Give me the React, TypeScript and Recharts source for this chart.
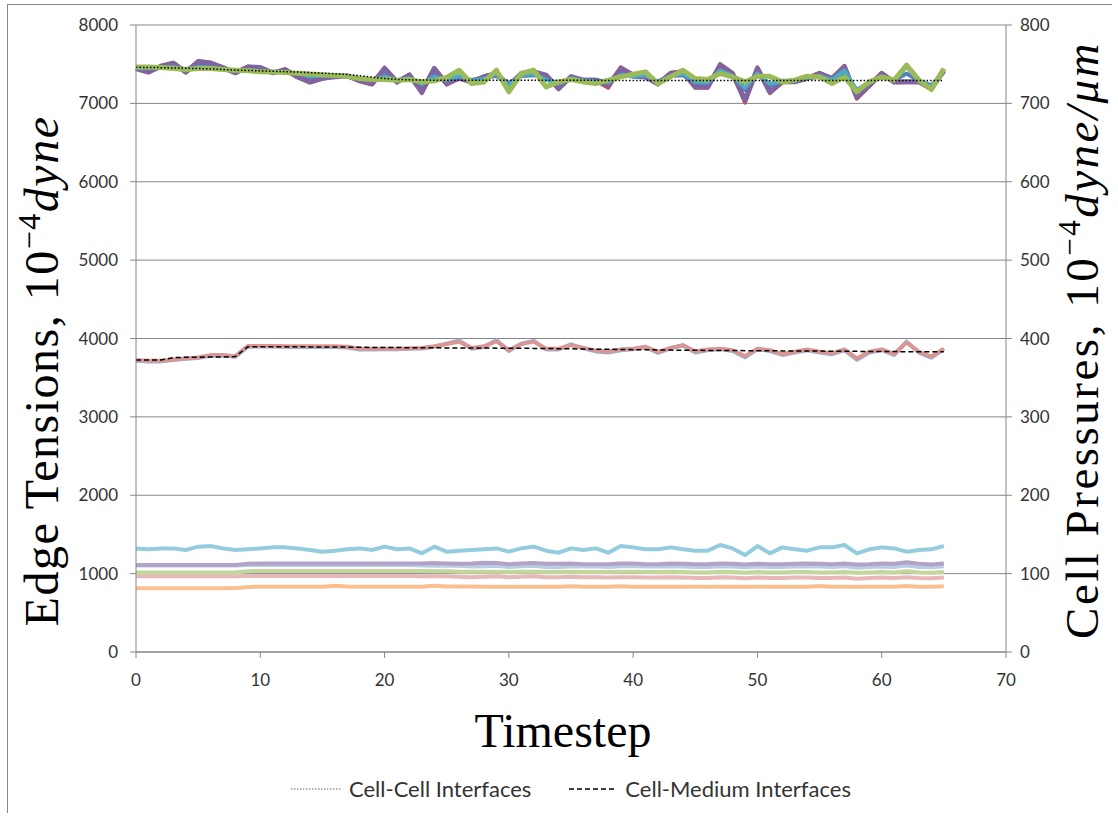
import React from 'react';
import { LineChart, Line, XAxis, YAxis, CartesianGrid } from 'recharts';

// timestep index 0..65
const timesteps = Array.from({ length: 66 }, (_, i) => i);

// edge tensions, cell-cell interfaces (10^-4 dyne)
const ccBlue = [
  7455, 7440, 7460, 7470, 7430, 7480, 7470, 7440, 7410, 7430,
  7420, 7400, 7410, 7370, 7330, 7350, 7360, 7350, 7310, 7290,
  7380, 7290, 7330, 7230, 7370, 7290, 7330, 7300, 7330, 7350,
  7260, 7350, 7360, 7320, 7250, 7320, 7300, 7300, 7270, 7380,
  7340, 7330, 7280, 7350, 7360, 7260, 7260, 7410, 7340, 7170,
  7380, 7220, 7290, 7290, 7320, 7340, 7310, 7390, 7170, 7270,
  7340, 7300, 7380, 7290, 7230, 7400,
];
const ccRed = [
  7440, 7395, 7480, 7520, 7395, 7540, 7520, 7450, 7385, 7470,
  7450, 7385, 7435, 7330, 7265, 7315, 7345, 7355, 7280, 7240,
  7455, 7265, 7370, 7130, 7450, 7240, 7325, 7265, 7345, 7390,
  7220, 7385, 7410, 7355, 7180, 7345, 7290, 7290, 7200, 7460,
  7365, 7335, 7240, 7390, 7410, 7200, 7200, 7500, 7385, 7010,
  7460, 7130, 7270, 7280, 7325, 7390, 7315, 7480, 7060, 7220,
  7390, 7265, 7270, 7270, 7180, 7430,
];
const ccPurple = [
  7445, 7400, 7470, 7510, 7400, 7530, 7515, 7457, 7390, 7465,
  7457, 7390, 7430, 7340, 7275, 7320, 7340, 7350, 7290, 7250,
  7445, 7275, 7360, 7147, 7445, 7250, 7320, 7275, 7340, 7380,
  7230, 7380, 7400, 7360, 7190, 7340, 7296, 7296, 7230, 7445,
  7360, 7340, 7250, 7380, 7400, 7210, 7210, 7488, 7380, 7040,
  7445, 7147, 7275, 7275, 7320, 7380, 7320, 7465, 7080, 7230,
  7380, 7275, 7275, 7275, 7190, 7420,
];
const ccAqua = [
  7450, 7450, 7455, 7460, 7440, 7460, 7455, 7440, 7420, 7425,
  7410, 7400, 7400, 7380, 7350, 7355, 7355, 7345, 7315, 7300,
  7340, 7295, 7320, 7250, 7340, 7300, 7350, 7290, 7310, 7380,
  7230, 7360, 7380, 7300, 7250, 7320, 7290, 7280, 7270, 7360,
  7350, 7360, 7270, 7350, 7380, 7270, 7270, 7420, 7350, 7200,
  7380, 7250, 7280, 7290, 7330, 7350, 7300, 7420, 7160, 7260,
  7340, 7290, 7470, 7290, 7210, 7430,
];
const ccGreen = [
  7465, 7465, 7457, 7445, 7432, 7445, 7445, 7432, 7423, 7415,
  7402, 7400, 7395, 7385, 7375, 7365, 7355, 7345, 7317, 7304,
  7304, 7296, 7304, 7274, 7287, 7330, 7423, 7253, 7274, 7423,
  7147, 7381, 7423, 7210, 7274, 7304, 7274, 7253, 7296, 7338,
  7372, 7402, 7253, 7338, 7423, 7317, 7304, 7381, 7338, 7274,
  7347, 7347, 7274, 7296, 7347, 7338, 7253, 7338, 7147, 7274,
  7338, 7296, 7487, 7296, 7177, 7445,
];
const cellCellMean = [
  7460, 7458, 7456, 7452, 7448, 7445, 7440, 7432, 7425, 7420,
  7415, 7410, 7405, 7400, 7392, 7385, 7378, 7368, 7352, 7335,
  7318, 7306, 7300, 7298, 7296, 7296, 7295, 7295, 7295, 7295,
  7295, 7295, 7295, 7294, 7294, 7294, 7294, 7294, 7293, 7293,
  7293, 7293, 7293, 7293, 7293, 7293, 7293, 7293, 7293, 7293,
  7292, 7292, 7292, 7292, 7292, 7292, 7292, 7292, 7292, 7292,
  7292, 7292, 7292, 7292, 7292, 7292,
];

// edge tensions, cell-medium interfaces
const cmBlue = [
  3715, 3708, 3708, 3725, 3740, 3750, 3780, 3780, 3768, 3895,
  3898, 3898, 3895, 3892, 3892, 3890, 3890, 3885, 3860, 3860,
  3862, 3862, 3868, 3872, 3895, 3935, 3975, 3870, 3890, 3980,
  3840, 3935, 3970, 3860, 3860, 3925, 3875, 3835, 3820, 3850,
  3862, 3890, 3815, 3875, 3910, 3820, 3850, 3865, 3840, 3760,
  3865, 3840, 3790, 3822, 3850, 3820, 3800, 3850, 3730, 3820,
  3855, 3790, 3960, 3820, 3755, 3865,
];
const cmRed = [
  3724, 3715, 3715, 3732, 3745, 3758, 3788, 3788, 3775, 3904,
  3904, 3904, 3900, 3900, 3900, 3900, 3900, 3895, 3870, 3870,
  3870, 3870, 3875, 3880, 3900, 3929, 3960, 3880, 3900, 3965,
  3850, 3929, 3960, 3870, 3870, 3916, 3880, 3845, 3834, 3860,
  3870, 3895, 3830, 3880, 3916, 3834, 3860, 3870, 3850, 3775,
  3870, 3850, 3800, 3830, 3860, 3830, 3810, 3860, 3745, 3830,
  3860, 3800, 3950, 3830, 3767, 3870,
];
const cellMediumMean = [
  3725, 3725, 3725, 3755, 3760, 3760, 3765, 3765, 3770, 3895,
  3895, 3895, 3895, 3895, 3893, 3892, 3890, 3890, 3888, 3886,
  3885, 3884, 3883, 3882, 3881, 3880, 3880, 3879, 3878, 3877,
  3876, 3875, 3874, 3872, 3870, 3868, 3866, 3864, 3862, 3860,
  3858, 3856, 3854, 3852, 3850, 3849, 3848, 3847, 3846, 3845,
  3844, 3843, 3842, 3841, 3840, 3839, 3838, 3837, 3836, 3835,
  3834, 3833, 3832, 3831, 3830, 3830,
];

// cell pressures (right axis)
const pAqua = [
  132.2, 131.0, 132.2, 132.2, 130.1, 134.4, 135.2, 132.2, 130.1, 131.0,
  132.2, 133.5, 133.5, 132.2, 130.1, 128.0, 129.3, 131.0, 132.2, 130.1,
  134.4, 131.0, 132.2, 125.9, 134.4, 128.0, 129.3, 130.1, 131.0, 132.2,
  128.0, 132.2, 134.4, 129.3, 126.7, 132.2, 130.1, 132.2, 126.7, 135.2,
  133.5, 131.0, 131.0, 133.5, 131.0, 129.3, 129.3, 136.5, 132.2, 123.7,
  135.2, 125.9, 133.5, 131.0, 129.3, 133.5, 133.5, 136.5, 125.9, 131.0,
  133.5, 132.2, 128.0, 130.1, 131.0, 135.2,
];
const pLavender = [
  111, 111, 111, 111, 111, 111, 111, 111, 111, 112.5,
  113, 113, 113, 113, 113, 113, 113, 113, 113, 113,
  113, 113, 113, 113, 113.5, 113, 112.5, 113, 114, 113.5,
  112, 113, 113.5, 112.5, 112.5, 113, 112, 112, 112, 113,
  113, 112, 112, 113, 112.5, 112, 112, 113, 112.5, 111.5,
  112.5, 112, 112, 112.5, 113, 112.5, 112, 113, 111.5, 112,
  113, 112.5, 114.5, 112.5, 111.5, 113,
];
const pBlue = [
  110.5, 110.5, 110.5, 110.5, 110.5, 110.5, 110.5, 110.5, 110.5, 111,
  111, 111, 111, 111, 111, 111, 111, 111, 111, 111,
  111, 111, 111, 110.5, 110, 110.5, 110, 109, 109.5, 110,
  108.5, 109.5, 110, 108.5, 108, 109.5, 109, 109, 108.5, 109.5,
  109.5, 109, 109, 109.5, 109, 108.5, 108.5, 109.5, 109, 108,
  109, 108.5, 108.5, 109, 109.5, 109, 108.5, 109.5, 107.5, 108.5,
  109, 108.5, 110.5, 108.5, 108, 109.5,
];
const pGreen = [
  101.5, 101.5, 101.5, 101.5, 101.5, 101.5, 101.5, 101.5, 101.5, 103,
  103.5, 103.5, 103.5, 103.5, 103.5, 103.5, 103.5, 103.5, 103.5, 103.5,
  103.5, 103.5, 103.5, 103.5, 103, 103, 102.5, 102.5, 102.5, 102.5,
  102, 102.5, 102.5, 102, 102, 102.5, 102, 102, 102, 102.5,
  102.5, 102, 102, 102.5, 102, 101.5, 101.5, 102.5, 102, 101,
  102, 101.5, 101.5, 102, 102, 101.5, 101.5, 102, 101, 101.5,
  102, 101.5, 103, 101.5, 101, 102,
];
const pPink = [
  96.5, 96.5, 96.5, 96.5, 96.5, 96.5, 96.5, 96.5, 96.5, 97,
  97, 97, 97, 97, 97, 97, 97, 97, 97, 97,
  97, 97, 97, 96.5, 96.5, 96.5, 96, 95.5, 96, 96.5,
  95.5, 96, 96.5, 95.5, 95.5, 96, 95.5, 95.5, 95, 95.5,
  95.5, 95, 95, 95.5, 95, 94.5, 94.5, 95.5, 95, 94,
  95, 94.5, 94.5, 95, 95, 94.5, 94.5, 95, 93.5, 94.5,
  95, 94.5, 95.5, 94.5, 94, 95,
];
const pOrange = [
  81.2, 81.2, 81.2, 81.2, 81.2, 81.2, 81.2, 81.2, 81.5, 83,
  83.3, 83.3, 83.3, 83.3, 83.3, 83.3, 84.5, 83.5, 83.3, 83.3,
  83.3, 83.3, 83.3, 83.3, 84.5, 83.5, 83.5, 83.5, 83.3, 83.3,
  83.3, 83.3, 83.3, 83.3, 83.3, 84, 83.3, 83.3, 83.3, 84,
  83.3, 83.3, 83.3, 83.3, 83.3, 83.3, 83.3, 83.3, 83.3, 83.3,
  83.3, 83.3, 83.3, 83.3, 83.3, 84.3, 83.3, 83.3, 83.3, 83.3,
  83.3, 83.3, 84.3, 83.3, 83.3, 84,
];

const xTicks = [0, 10, 20, 30, 40, 50, 60, 70];
const leftTicks = [0, 1000, 2000, 3000, 4000, 5000, 6000, 7000, 8000];
const rightTicks = [0, 100, 200, 300, 400, 500, 600, 700, 800];

const data = timesteps.map((t, i) => ({
  t,
  ccBlue: ccBlue[i], ccRed: ccRed[i], ccPurple: ccPurple[i], ccAqua: ccAqua[i], ccGreen: ccGreen[i],
  cellCellMean: cellCellMean[i],
  cmBlue: cmBlue[i], cmRed: cmRed[i], cellMediumMean: cellMediumMean[i],
  pAqua: pAqua[i], pLavender: pLavender[i], pBlue: pBlue[i], pGreen: pGreen[i], pPink: pPink[i], pOrange: pOrange[i],
}));

const SERIF = '"Liberation Serif", "Times New Roman", serif';
const SANS = 'Lato, "Open Sans", sans-serif';
const AXIS = '#868686';
const TICK = { fill: '#333', fontSize: 17, fontFamily: SANS };

const LeftTitle = () => (
  <text x={50} y={366} transform="rotate(-90 50 366)" textAnchor="middle"
    fontFamily={SERIF} fontSize={48} letterSpacing={1.5} fill="#000">
    <tspan fontFamily={SERIF}>Edge Tensions, 10</tspan>
    <tspan fontFamily={SERIF} dy={-18} fontSize={32}>−4</tspan>
    <tspan fontFamily={SERIF} dy={18} fontStyle="italic">dyne</tspan>
  </text>
);

const RightTitle = () => (
  <text x={1090} y={335} transform="rotate(-90 1090 335)" textAnchor="middle"
    fontFamily={SERIF} fontSize={47} letterSpacing={2.5} fill="#000">
    <tspan fontFamily={SERIF}>Cell Pressures, 10</tspan>
    <tspan fontFamily={SERIF} dy={-18} fontSize={31}>−4</tspan>
    <tspan fontFamily={SERIF} dy={18} fontStyle="italic">dyne/μm</tspan>
  </text>
);

const BottomTitle = () => (
  <text x={555} y={742} textAnchor="middle" fontFamily={SERIF} fontSize={48} fill="#000">
    Timestep
  </text>
);

const thick = { strokeWidth: 4, dot: false, isAnimationActive: false, strokeLinejoin: 'round' as const };

export default function App() {
  return (
    <div style={{ position: 'absolute', left: 7, top: 4, width: 1104, height: 808,
      borderLeft: `1px solid ${AXIS}`, borderTop: `1px solid ${AXIS}`, background: '#fff' }}>
      <LineChart width={1104} height={808} data={data}
        margin={{ top: 20, right: 50, bottom: 131, left: 48 }}>
        <CartesianGrid yAxisId="left" vertical={false} stroke={AXIS} />
        <XAxis dataKey="t" type="number" domain={[0, 70]} ticks={xTicks} height={30}
          stroke={AXIS} tick={TICK} tickMargin={16} label={<BottomTitle />} />
        <YAxis yAxisId="left" domain={[0, 8000]} ticks={leftTicks} width={80}
          stroke={AXIS} tick={TICK} tickMargin={12} label={<LeftTitle />} />
        <YAxis yAxisId="right" orientation="right" domain={[0, 800]} ticks={rightTicks} width={56}
          stroke={AXIS} tick={TICK} tickMargin={8} label={<RightTitle />} />

        <Line yAxisId="right" dataKey="pOrange" stroke="#FAC090" {...thick} />
        <Line yAxisId="right" dataKey="pPink" stroke="#E6B9B8" {...thick} />
        <Line yAxisId="right" dataKey="pGreen" stroke="#C3D69B" {...thick} />
        <Line yAxisId="right" dataKey="pBlue" stroke="#B9CDE5" {...thick} />
        <Line yAxisId="right" dataKey="pLavender" stroke="#B3A2C7" {...thick} />
        <Line yAxisId="right" dataKey="pAqua" stroke="#93CDDD" {...thick} />

        <Line yAxisId="left" dataKey="cmBlue" stroke="#8DB4E2" {...thick} />
        <Line yAxisId="left" dataKey="cmRed" stroke="#D99694" {...thick} />

        <Line yAxisId="left" dataKey="ccBlue" stroke="#4F81BD" {...thick} />
        <Line yAxisId="left" dataKey="ccRed" stroke="#C0504D" {...thick} />
        <Line yAxisId="left" dataKey="ccPurple" stroke="#8064A2" {...thick} strokeWidth={5} />
        <Line yAxisId="left" dataKey="ccAqua" stroke="#4BACC6" {...thick} />
        <Line yAxisId="left" dataKey="ccGreen" stroke="#9BBB59" {...thick} strokeWidth={5} />

        <Line yAxisId="left" dataKey="cellCellMean" stroke="#000" strokeWidth={1.5}
          strokeDasharray="1.5 2" dot={false} isAnimationActive={false} />
        <Line yAxisId="left" dataKey="cellMediumMean" stroke="#000" strokeWidth={1.5}
          strokeDasharray="5 3" dot={false} isAnimationActive={false} />
      </LineChart>

      <div style={{ position: 'absolute', left: 283, top: 770, display: 'flex', alignItems: 'center',
        fontFamily: SANS, fontSize: 22, color: '#333', whiteSpace: 'nowrap' }}>
        <svg width={50} height={10} style={{ marginRight: 8 }}>
          <line x1={0} y1={5} x2={50} y2={5} stroke="#666" strokeWidth={1.2} strokeDasharray="1.5 1.5" />
        </svg>
        <span>Cell-Cell Interfaces</span>
        <svg width={48} height={10} style={{ marginLeft: 38, marginRight: 8 }}>
          <line x1={0} y1={5} x2={48} y2={5} stroke="#000" strokeWidth={1.5} strokeDasharray="5 3" />
        </svg>
        <span>Cell-Medium Interfaces</span>
      </div>
    </div>
  );
}
